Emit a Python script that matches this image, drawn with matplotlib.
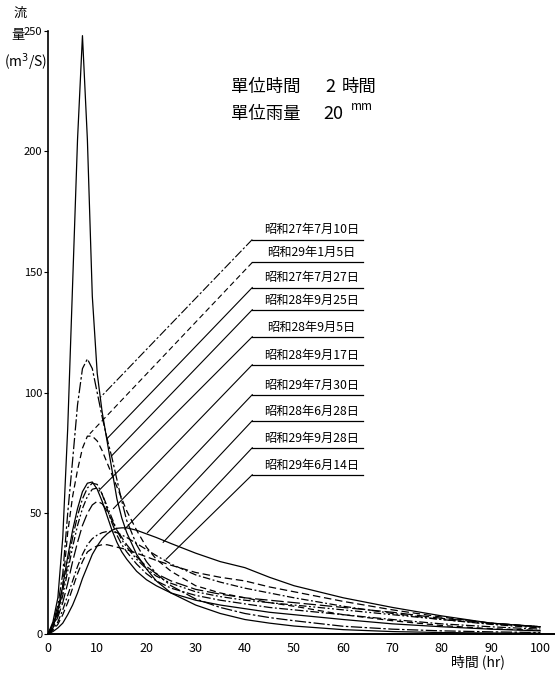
import numpy as np
import matplotlib
matplotlib.use("Agg")
import matplotlib.pyplot as plt

plt.rcParams['font.family'] = ['Noto Sans CJK JP', 'DejaVu Sans']

# ---- data ----
T = [0, 1, 2, 3, 4, 5, 6, 7, 8, 9, 10, 11, 12, 13, 14, 15, 16, 18, 20, 22, 25,
     30, 35, 40, 45, 50, 60, 70, 80, 90, 100]

q_tall = [0, 5, 15, 40, 85, 145, 205, 248, 205, 140, 108, 92, 80, 68, 56, 48, 42, 33,
          27, 22, 17, 12, 8.5, 6, 4.5, 3.3, 1.8, 1.0, 0.6, 0.4, 0.3]
q_114 = [0, 4, 12, 25, 50, 72, 95, 110, 114, 110, 100, 90, 81, 73, 64, 55, 47, 37,
         30, 25, 20, 14.5, 11, 8.5, 6.8, 5.5, 3.2, 2.0, 1.3, 0.9, 0.6]
q_82 = [0, 3, 9, 20, 42, 57, 68, 77, 82, 82, 80, 76, 71, 66, 61, 56, 51, 43,
        36, 31, 26, 20, 17, 15, 13, 11.5, 8, 5.5, 3.5, 2.2, 1.5]
q_63 = [0, 4, 10, 20, 32, 43, 52, 59, 62.5, 63, 60, 55, 49, 43, 38, 34, 31, 26,
        22.5, 20, 17, 14, 12, 10.5, 9, 8, 6, 4.2, 3, 2, 1.3]
q_62 = [0, 3.5, 9, 18, 29, 40, 49, 56, 60.5, 62.5, 62, 58, 52, 46, 41, 37, 34, 29,
        25, 22, 19, 16, 14, 12.5, 11, 10, 8, 6, 4.2, 3, 2]
q_60 = [0, 3, 8, 16, 26, 36, 45, 52, 57, 60, 60.5, 58, 53, 48, 43, 39, 36, 31,
        27, 24, 21, 17.5, 15.5, 14, 13, 12, 10, 8, 6, 4.2, 3]
q_55 = [0, 2.5, 7, 13, 21, 30, 38, 45, 50, 53.5, 55, 54, 51, 47, 43, 40, 37, 32,
        28, 25, 22, 18.5, 16.5, 15, 14, 13, 11, 9, 6.5, 4.5, 3]
q_44 = [0, 1, 2.5, 4.5, 8, 12, 17, 23, 28, 33, 36.5, 39.5, 41.5, 43, 43.8, 44, 44, 43,
        41.5, 40, 37.5, 33.5, 30, 27.5, 23.5, 20, 15, 11, 7.5, 4.5, 3]
q_42 = [0, 2, 5, 10, 16, 22, 28, 33, 37, 39.5, 41, 42, 42.5, 42.5, 42, 41, 40, 37.5,
        35, 32.5, 29, 24.5, 21.5, 19, 17, 15, 11.5, 8.5, 6, 4, 2.5]
q_37 = [0, 1.5, 4, 8, 13, 19, 25, 30, 34, 35.5, 36.5, 37, 37, 36.5, 36, 35.5, 35, 33.5,
        32, 30.5, 28.5, 25.5, 23.5, 22, 19.5, 17.5, 13.5, 10, 7, 4.5, 3]

curves = [q_tall, q_114, q_82, q_63, q_62, q_60, q_55, q_44, q_42, q_37]
styles = ['-', (0, (9, 2, 2, 2)), (0, (5, 3)), '-', (0, (7, 2, 1.5, 2)),
          (0, (6, 2, 1.5, 2, 1.5, 2)), (0, (10, 3)), '-', (0, (6, 2, 1.5, 2)),
          (0, (6, 3))]

event_labels = ['昭和27年7月10日', '昭和29年1月5日', '昭和27年7月27日', '昭和28年9月25日',
                '昭和28年9月5日', '昭和28年9月17日', '昭和29年7月30日', '昭和28年6月28日',
                '昭和29年9月28日', '昭和29年6月14日']
label_q = [163.5, 154, 143.6, 134.4, 123.2, 111.6, 99.2, 88.4, 77.2, 66]
target_t = [10.6, 8.5, 12, 13, 10.6, 13.3, 15.6, 20.2, 23.4, 24]
target_q = [98, 83, 81, 74, 60, 52, 43.5, 42, 38, 31]
leader_styles = [(0, (8, 2, 2, 2)), (0, (5, 3)), '-', '-', '-', '-', '-', '-', '-', '-']

xticks = [0, 10, 20, 30, 40, 50, 60, 70, 80, 90, 100]
yticks = [0, 50, 100, 150, 200, 250]

# ---- figure ----
W, H = 555, 677
fig = plt.figure(figsize=(W / 100, H / 100), dpi=100)
ax = fig.add_axes([48 / W, 43 / H, 507 / W, 608 / H])
ax.set_xlim(0, 103)
ax.set_ylim(0, 252)

for q, ls in zip(curves, styles):
    ax.plot(T, q, color='black', lw=0.9, linestyle=ls)

X0, X1 = 41.5, 64.0
for lab, lq, tt, tq, lls in zip(event_labels, label_q, target_t, target_q, leader_styles):
    ax.plot([X0, X1], [lq, lq], color='black', lw=0.9)
    ax.plot([X0, tt], [lq, tq], color='black', lw=0.8, linestyle=lls)
    ax.text((X0 + X1) / 2 + 0.8, lq + 1.3, lab, fontsize=8.8, ha='center', va='bottom')

for s in ['top', 'right']:
    ax.spines[s].set_visible(False)
ax.spines['left'].set_bounds(0, 250)
ax.spines['left'].set_linewidth(1.2)
ax.spines['bottom'].set_linewidth(1.4)

ax.set_xticks(xticks)
ax.set_xticklabels([str(v) for v in xticks], fontsize=9, style='italic')
ax.set_yticks(yticks)
ax.set_yticklabels([str(v) for v in yticks], fontsize=8, style='italic')
ax.tick_params(axis='x', length=0, pad=6)
ax.tick_params(axis='y', length=3, pad=1)

# axis titles
fig.text(20 / W, 1 - 13 / H, '流', fontsize=9.5, ha='center', va='center')
fig.text(18 / W, 1 - 35 / H, '量', fontsize=9.5, ha='center', va='center')
fig.text(26 / W, 1 - 62 / H, '(m$^3$/S)', fontsize=10, ha='center', va='center', style='italic')
fig.text(478 / W, 1 - 662 / H, '時間 (hr)', fontsize=10, ha='center', va='center')

# unit box text
fig.text(231 / W, 1 - 87 / H, '單位時間', fontsize=12.5, ha='left', va='center')
fig.text(325 / W, 1 - 87 / H, '2', fontsize=13, ha='left', va='center', style='italic')
fig.text(342 / W, 1 - 87 / H, '時間', fontsize=12.5, ha='left', va='center')
fig.text(231 / W, 1 - 114 / H, '單位雨量', fontsize=12.5, ha='left', va='center')
fig.text(323 / W, 1 - 114 / H, '20', fontsize=13, ha='left', va='center', style='italic')
fig.text(351 / W, 1 - 106 / H, 'mm', fontsize=8.5, ha='left', va='center', style='italic')

fig.savefig('out.png', dpi=100)
